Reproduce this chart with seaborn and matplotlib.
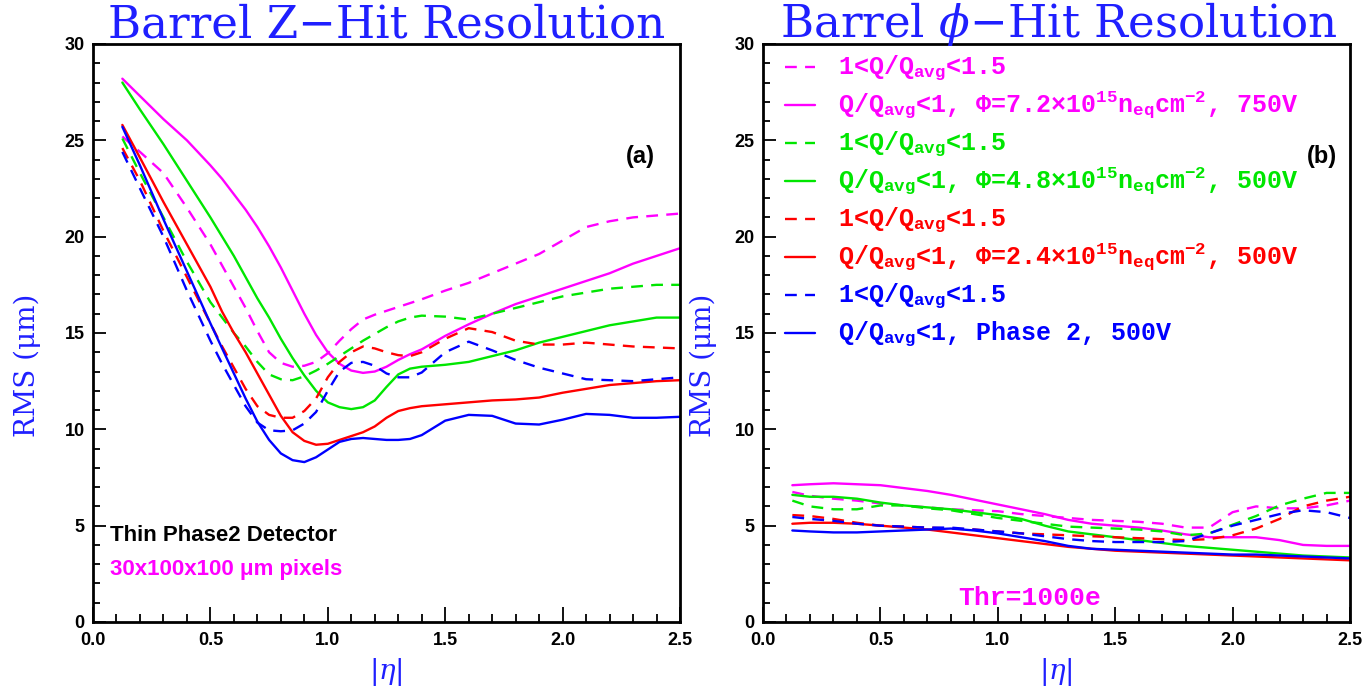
import numpy as np
import pandas as pd
import matplotlib
matplotlib.use("Agg")
import matplotlib.pyplot as plt
import seaborn as sns
from matplotlib.ticker import MultipleLocator

# ---------------- data ----------------
eta_z = [0.125, 0.2, 0.3, 0.4, 0.5, 0.55, 0.6, 0.65, 0.7, 0.75, 0.8, 0.85, 0.9, 0.95,
         1.0, 1.05, 1.1, 1.15, 1.2, 1.25, 1.3, 1.35, 1.4, 1.5, 1.6, 1.7, 1.8, 1.9,
         2.0, 2.1, 2.2, 2.3, 2.4, 2.5]

# Panel (a): Z-hit resolution
z_mag_solid = [28.2, 27.3, 26.1, 25.0, 23.7, 23.0, 22.2, 21.4, 20.5, 19.5, 18.4, 17.2, 16.0, 14.9,
               14.0, 13.4, 13.05, 12.93, 13.0, 13.25, 13.6, 13.9, 14.15, 14.85, 15.45, 16.0, 16.5, 16.9,
               17.3, 17.7, 18.1, 18.6, 19.0, 19.4]
z_mag_dash = [25.2, 24.4, 23.3, 21.5, 19.6, 18.5, 17.4, 16.3, 15.1, 14.0, 13.45, 13.25, 13.3, 13.5,
              13.95, 14.6, 15.2, 15.7, 15.95, 16.15, 16.35, 16.55, 16.75, 17.2, 17.6, 18.1, 18.6, 19.1,
              19.8, 20.5, 20.8, 21.0, 21.1, 21.2]
z_grn_solid = [28.0, 26.6, 24.8, 22.9, 21.0, 20.0, 19.0, 17.9, 16.8, 15.8, 14.7, 13.7, 12.8, 12.0,
               11.4, 11.15, 11.05, 11.15, 11.5, 12.2, 12.85, 13.15, 13.25, 13.35, 13.5, 13.8, 14.1, 14.5,
               14.8, 15.1, 15.4, 15.6, 15.8, 15.8]
z_grn_dash = [25.1, 23.3, 21.0, 18.7, 16.6, 15.8, 15.0, 14.3, 13.5, 12.85, 12.6, 12.55, 12.75, 13.05,
              13.4, 13.8, 14.2, 14.6, 14.95, 15.3, 15.6, 15.8, 15.9, 15.85, 15.7, 16.0, 16.3, 16.6,
              16.9, 17.1, 17.3, 17.4, 17.5, 17.5]
z_red_solid = [25.8, 24.1, 21.8, 19.6, 17.4, 16.1, 15.0, 14.0, 12.9, 11.8, 10.7, 9.85, 9.4, 9.2,
               9.25, 9.45, 9.65, 9.85, 10.15, 10.6, 10.95, 11.1, 11.2, 11.3, 11.4, 11.5, 11.55, 11.65,
               11.9, 12.1, 12.3, 12.4, 12.5, 12.55]
z_red_dash = [24.6, 22.9, 20.3, 17.9, 15.5, 14.3, 13.2, 12.1, 11.2, 10.75, 10.6, 10.6, 10.95, 11.6,
              12.7, 13.5, 14.0, 14.3, 14.2, 14.0, 13.85, 13.8, 14.0, 14.7, 15.25, 15.05, 14.6, 14.4,
              14.4, 14.5, 14.4, 14.3, 14.25, 14.2]
z_blu_solid = [25.7, 23.7, 20.9, 18.2, 15.5, 14.2, 12.9, 11.6, 10.4, 9.45, 8.75, 8.4, 8.3, 8.55,
               8.95, 9.35, 9.5, 9.55, 9.5, 9.45, 9.45, 9.5, 9.7, 10.45, 10.75, 10.7, 10.3, 10.25,
               10.5, 10.8, 10.75, 10.6, 10.6, 10.65]
z_blu_dash = [24.4, 22.5, 20.0, 17.2, 14.6, 13.4, 12.3, 11.2, 10.35, 9.95, 9.9, 9.95, 10.3, 10.9,
              12.0, 13.0, 13.45, 13.5, 13.3, 12.9, 12.7, 12.7, 12.95, 14.0, 14.55, 14.1, 13.6, 13.2,
              12.9, 12.6, 12.55, 12.5, 12.6, 12.7]

# Panel (b): phi-hit resolution
eta_phi = [0.125, 0.2, 0.3, 0.4, 0.5, 0.6, 0.7, 0.8, 0.9, 1.0, 1.1, 1.2, 1.3,
           1.4, 1.5, 1.6, 1.7, 1.8, 1.9, 2.0, 2.1, 2.2, 2.3, 2.4, 2.5]
p_mag_solid = [7.1, 7.15, 7.2, 7.15, 7.1, 6.95, 6.8, 6.6, 6.35, 6.1, 5.85, 5.6, 5.3,
               5.1, 5.0, 4.9, 4.75, 4.55, 4.4, 4.4, 4.4, 4.25, 4.0, 3.95, 3.95]
p_mag_dash = [6.75, 6.55, 6.4, 6.3, 6.15, 6.05, 5.95, 5.85, 5.8, 5.75, 5.6, 5.5, 5.4,
              5.3, 5.25, 5.2, 5.1, 4.9, 4.9, 5.7, 6.0, 5.9, 5.9, 6.05, 6.3]
p_grn_solid = [6.6, 6.5, 6.5, 6.4, 6.2, 6.05, 5.95, 5.85, 5.7, 5.55, 5.35, 5.0, 4.7,
               4.55, 4.4, 4.25, 4.1, 3.95, 3.85, 3.75, 3.65, 3.55, 3.45, 3.4, 3.35]
p_grn_dash = [6.3, 6.0, 5.85, 5.85, 6.05, 6.05, 5.9, 5.8, 5.6, 5.4, 5.25, 5.1, 4.95,
              4.9, 4.85, 4.8, 4.7, 4.5, 4.6, 5.05, 5.5, 6.05, 6.4, 6.7, 6.7]
p_red_solid = [5.1, 5.15, 5.15, 5.1, 5.0, 4.9, 4.8, 4.65, 4.5, 4.35, 4.2, 4.05, 3.9,
               3.8, 3.7, 3.65, 3.6, 3.55, 3.5, 3.45, 3.4, 3.35, 3.3, 3.25, 3.2]
p_red_dash = [5.55, 5.5, 5.35, 5.15, 5.0, 4.95, 4.9, 4.85, 4.8, 4.7, 4.6, 4.55, 4.5,
              4.45, 4.4, 4.35, 4.3, 4.25, 4.3, 4.5, 4.85, 5.35, 6.0, 6.3, 6.5]
p_blu_solid = [4.75, 4.7, 4.65, 4.65, 4.7, 4.75, 4.8, 4.85, 4.75, 4.6, 4.4, 4.2, 3.95,
               3.8, 3.75, 3.7, 3.65, 3.6, 3.55, 3.5, 3.5, 3.45, 3.4, 3.35, 3.3]
p_blu_dash = [5.45, 5.35, 5.25, 5.1, 5.0, 4.95, 4.9, 4.9, 4.8, 4.7, 4.6, 4.45, 4.3,
              4.2, 4.15, 4.15, 4.15, 4.2, 4.6, 5.0, 5.3, 5.6, 5.8, 5.7, 5.4]

legend_labels = [
    r"1<Q/Q$_{\mathrm{avg}}$<1.5",
    r"Q/Q$_{\mathrm{avg}}$<1, Φ=7.2×10$^{\mathrm{15}}$n$_{\mathrm{eq}}$cm$^{\mathrm{-2}}$, 750V",
    r"1<Q/Q$_{\mathrm{avg}}$<1.5",
    r"Q/Q$_{\mathrm{avg}}$<1, Φ=4.8×10$^{\mathrm{15}}$n$_{\mathrm{eq}}$cm$^{\mathrm{-2}}$, 500V",
    r"1<Q/Q$_{\mathrm{avg}}$<1.5",
    r"Q/Q$_{\mathrm{avg}}$<1, Φ=2.4×10$^{\mathrm{15}}$n$_{\mathrm{eq}}$cm$^{\mathrm{-2}}$, 500V",
    r"1<Q/Q$_{\mathrm{avg}}$<1.5",
    r"Q/Q$_{\mathrm{avg}}$<1, Phase 2, 500V",
]

x_ticks = [0.0, 0.5, 1.0, 1.5, 2.0, 2.5]
y_ticks = [0, 5, 10, 15, 20, 25, 30]

# ---------------- style ----------------
sns.set_theme(style="ticks")
plt.rcParams["font.family"] = ["DejaVu Sans"]
plt.rcParams["mathtext.fontset"] = "custom"
plt.rcParams["mathtext.rm"] = "Liberation Mono:bold"
plt.rcParams["mathtext.bf"] = "Liberation Mono:bold"
plt.rcParams["mathtext.it"] = "DejaVu Serif:italic"

MAG, GRN, RED, BLU = "#ff00ff", "#00e600", "#ff0000", "#0000ff"
TITLE_BLUE = "#1f1fff"
DASH = (0, (5, 3.5))

series_z = [(z_mag_dash, MAG, True), (z_mag_solid, MAG, False),
            (z_grn_dash, GRN, True), (z_grn_solid, GRN, False),
            (z_red_dash, RED, True), (z_red_solid, RED, False),
            (z_blu_dash, BLU, True), (z_blu_solid, BLU, False)]
series_p = [(p_mag_dash, MAG, True), (p_mag_solid, MAG, False),
            (p_grn_dash, GRN, True), (p_grn_solid, GRN, False),
            (p_red_dash, RED, True), (p_red_solid, RED, False),
            (p_blu_dash, BLU, True), (p_blu_solid, BLU, False)]

fig = plt.figure(figsize=(13.65, 6.92), dpi=100)
W, H = 1365, 692
ax_a = fig.add_axes([93 / W, 1 - 622 / H, 587 / W, 578 / H])
ax_b = fig.add_axes([763 / W, 1 - 622 / H, 587 / W, 578 / H])

tick_font = dict(family="Liberation Sans", weight="bold", size=13, color="black")

for ax, xs, series in ((ax_a, eta_z, series_z), (ax_b, eta_phi, series_p)):
    for vals, col, dashed in series:
        df = pd.DataFrame({"eta": xs, "rms": vals})
        sns.lineplot(data=df, x="eta", y="rms", ax=ax, color=col, linewidth=1.7,
                     linestyle=DASH if dashed else "-", legend=False)
    ax.set_xlim(0, 2.5)
    ax.set_ylim(0, 30)
    ax.set_xticks(x_ticks)
    ax.set_yticks(y_ticks)
    ax.xaxis.set_minor_locator(MultipleLocator(0.1))
    ax.yaxis.set_minor_locator(MultipleLocator(1))
    ax.set_xticklabels([f"{v:.1f}" for v in x_ticks], fontdict=tick_font)
    ax.set_yticklabels([str(v) for v in y_ticks], fontdict=tick_font)
    ax.tick_params(axis="both", which="both", direction="in", top=False, right=False,
                   color="black", labelcolor="black", width=1.3)
    ax.tick_params(axis="x", which="major", length=11, pad=7)
    ax.tick_params(axis="x", which="minor", length=6)
    ax.tick_params(axis="y", which="major", length=9, pad=6)
    ax.tick_params(axis="y", which="minor", length=5)
    for sp in ax.spines.values():
        sp.set_linewidth(2.0)
        sp.set_color("black")
    ax.set_xlabel("")
    ax.set_ylabel("")
    ax.set_facecolor("white")

# Titles
title_font = dict(family="DejaVu Serif", size=32.5, color=TITLE_BLUE)
fig.text(387 / W, 1 - 37 / H, "Barrel Z\u2212Hit Resolution", ha="center", va="baseline", **title_font)
fig.text(1059 / W, 1 - 37 / H, "Barrel $\\phi$\u2212Hit Resolution",
         ha="center", va="baseline", **title_font)

# Axis labels
lab_font = dict(family="DejaVu Serif", size=20, color=TITLE_BLUE)
fig.text(27 / W, 1 - 365 / H, "RMS (\u03bcm)", rotation=90, ha="center", va="center", **lab_font)
fig.text(703 / W, 1 - 365 / H, "RMS (\u03bcm)", rotation=90, ha="center", va="center", **lab_font)
fig.text(386 / W, 1 - 672 / H, r"|$\eta$|", ha="center", va="center", **lab_font)
fig.text(1056 / W, 1 - 672 / H, r"|$\eta$|", ha="center", va="center", **lab_font)

# Panel annotations
ax_a.text(0.932, 0.805, "(a)", transform=ax_a.transAxes, ha="center", va="center",
          family="Liberation Sans", weight="bold", size=17, color="black")
ax_b.text(0.952, 0.805, "(b)", transform=ax_b.transAxes, ha="center", va="center",
          family="Liberation Sans", weight="bold", size=17, color="black")
ax_a.text(0.029, 0.15, "Thin Phase2 Detector", transform=ax_a.transAxes, ha="left", va="center",
          family="Liberation Sans", weight="bold", size=16, color="black")
ax_a.text(0.029, 0.09, "30x100x100 \u03bcm pixels", transform=ax_a.transAxes, ha="left", va="center",
          family="Liberation Sans", weight="bold", size=16, color=MAG)
ax_b.text(0.455, 0.042, "Thr=1000e", transform=ax_b.transAxes, ha="center", va="center",
          family="Liberation Mono", weight="bold", size=19, color=MAG)

# Legend (panel b)
row0 = 0.96
drow = 38 / 578
for i, (lab, (vals, col, dashed)) in enumerate(zip(legend_labels, series_p)):
    yy = row0 - i * drow
    ax_b.plot([0.0375, 0.089], [yy, yy], transform=ax_b.transAxes, color=col, linewidth=1.7,
              linestyle=DASH if dashed else "-")
    ax_b.text(0.128, yy - 7 / 578, lab, transform=ax_b.transAxes, ha="left", va="baseline",
              family="Liberation Mono", weight="bold", size=18, color=col)

fig.savefig("out.png", dpi=100, facecolor="white")
